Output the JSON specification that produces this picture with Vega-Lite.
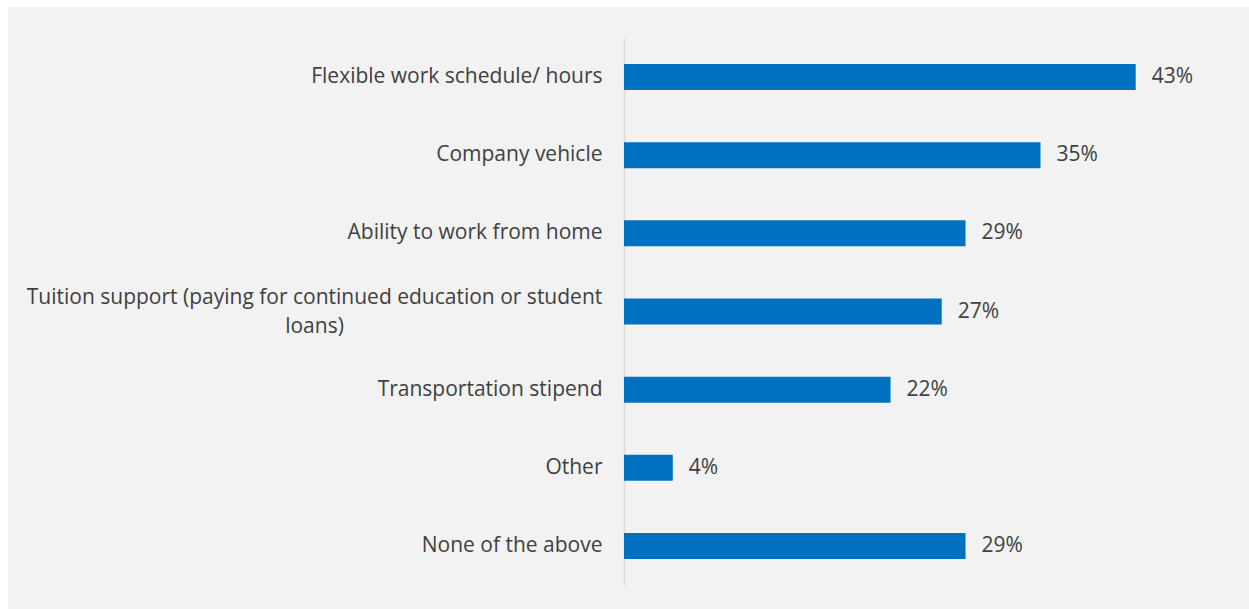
{
  "$schema": "https://vega.github.io/schema/vega-lite/v6.json",
  "autosize": "none",
  "width": 1241,
  "height": 602,
  "padding": {"left": 8, "top": 7, "right": 0, "bottom": 0},
  "background": "#ffffff",
  "config": {
    "view": {"fill": "#f2f2f2", "stroke": null},
    "font": "Open Sans"
  },
  "data": {
    "values": [
      {"benefit": "Flexible work schedule/ hours", "value": 0.43},
      {"benefit": "Company vehicle", "value": 0.35},
      {"benefit": "Ability to work from home", "value": 0.287},
      {"benefit": "Tuition support (paying for continued education or student|loans)", "value": 0.267},
      {"benefit": "Transportation stipend", "value": 0.224},
      {"benefit": "Other", "value": 0.041},
      {"benefit": "None of the above", "value": 0.287}
    ]
  },
  "encoding": {
    "y": {
      "field": "benefit",
      "type": "nominal",
      "sort": null,
      "scale": {"range": [31, 578], "paddingInner": 0.667, "paddingOuter": 0.333},
      "axis": {
        "title": null,
        "offset": -616,
        "ticks": false,
        "domainColor": "#d9d9d9",
        "domainWidth": 1.5,
        "labelFontSize": 21,
        "labelColor": "#404040",
        "labelLimit": 700,
        "labelLineHeight": 29,
        "labelExpr": "split(datum.label, '|')",
        "labelAlign": {"condition": {"test": "indexof(datum.label, '|') >= 0", "value": "center"}, "value": "right"},
        "labelPadding": {"condition": {"test": "indexof(datum.label, '|') >= 0", "value": 310}, "value": 22},
        "labelOffset": {"condition": {"test": "indexof(datum.label, '|') >= 0", "value": -14}, "value": 0}
      }
    },
    "x": {
      "field": "value",
      "type": "quantitative",
      "scale": {"domain": [0, 0.5], "range": [616, 1211], "nice": false},
      "axis": null
    }
  },
  "layer": [
    {"mark": {"type": "bar", "color": "#0070c0"}},
    {
      "mark": {"type": "text", "align": "left", "dx": 16, "fontSize": 21, "color": "#404040", "baseline": "middle"},
      "encoding": {"text": {"field": "value", "type": "quantitative", "format": ".0%"}}
    }
  ]
}
